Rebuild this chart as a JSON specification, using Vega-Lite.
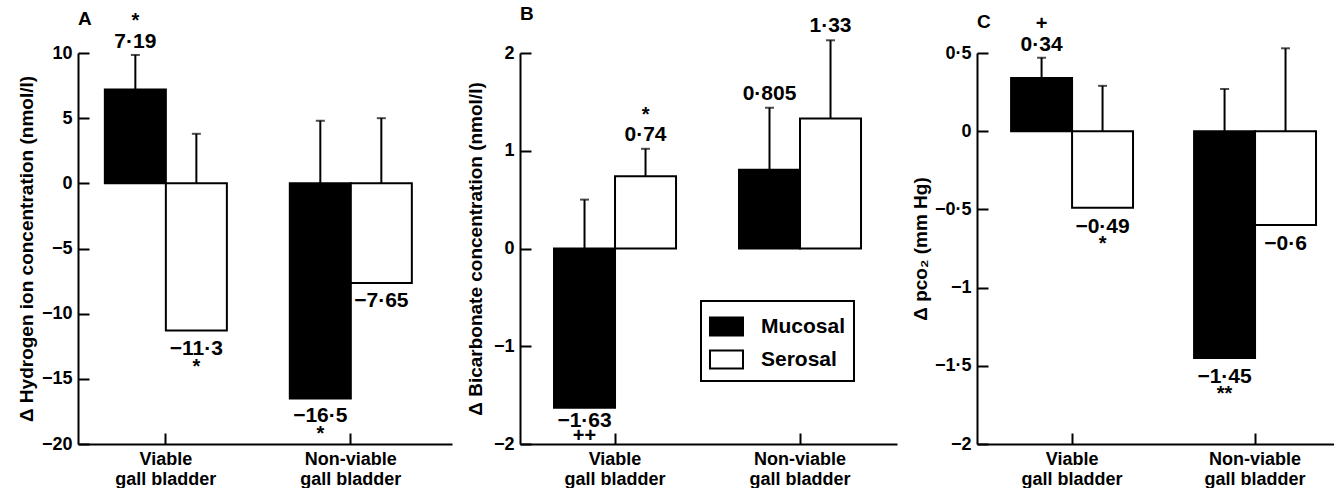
{
"$schema":"https://vega.github.io/schema/vega-lite/v6.json",
"background":"white",
"padding":{"left":17,"top":-4,"right":0,"bottom":0},
"spacing":14,
"datasets":{"d":[
{"panel":"A","group":"Viable","side":"Mucosal","value":7.19,"hi":9.85,"label":"7·19","sig":"*"},
{"panel":"A","group":"Viable","side":"Serosal","value":-11.3,"hi":3.8,"label":"−11·3","sig":"*"},
{"panel":"A","group":"Non-viable","side":"Mucosal","value":-16.5,"hi":4.8,"label":"−16·5","sig":"*"},
{"panel":"A","group":"Non-viable","side":"Serosal","value":-7.65,"hi":5.0,"label":"−7·65","sig":""},
{"panel":"B","group":"Viable","side":"Mucosal","value":-1.63,"hi":0.5,"label":"−1·63","sig":"++"},
{"panel":"B","group":"Viable","side":"Serosal","value":0.74,"hi":1.02,"label":"0·74","sig":"*"},
{"panel":"B","group":"Non-viable","side":"Mucosal","value":0.805,"hi":1.44,"label":"0·805","sig":""},
{"panel":"B","group":"Non-viable","side":"Serosal","value":1.33,"hi":2.13,"label":"1·33","sig":""},
{"panel":"C","group":"Viable","side":"Mucosal","value":0.34,"hi":0.47,"label":"0·34","sig":"+"},
{"panel":"C","group":"Viable","side":"Serosal","value":-0.49,"hi":0.29,"label":"−0·49","sig":"*"},
{"panel":"C","group":"Non-viable","side":"Mucosal","value":-1.45,"hi":0.27,"label":"−1·45","sig":"**"},
{"panel":"C","group":"Non-viable","side":"Serosal","value":-0.6,"hi":0.53,"label":"−0·6","sig":""}
]},
"config":{
 "font":"Liberation Sans",
 "view":{"stroke":null},
 "axis":{"domainColor":"black","domainWidth":2,"tickColor":"black","tickWidth":2,"tickSize":-11,"labelColor":"black","titleColor":"black","grid":false,"labelFont":"Liberation Sans","titleFont":"Liberation Sans","labelFontWeight":"bold","titleFontWeight":"bold","labelFontSize":18,"titleFontSize":19},
 "title":{"anchor":"start","frame":"group","fontSize":19,"fontWeight":"bold","color":"black","font":"Liberation Sans","offset":-18},
 "legend":{"strokeColor":"black","strokeWidth":2,"padding":8},
 "text":{"font":"Liberation Sans","color":"black"}
},
"resolve":{"scale":{"fill":"shared","y":"independent","x":"independent","xOffset":"independent"}},
"hconcat":[
{
 "title":{"text":"A"},
 "width":374,"height":391,
 "data":{"name":"d"},
 "transform":[{"filter":"datum.panel === 'A'"}],
 "encoding":{
  "x":{"field":"group","type":"nominal","sort":["Viable","Non-viable"],"scale":{"paddingInner":0.05,"paddingOuter":0.036,"align":0},
       "axis":{"title":null,"labelAngle":0,"labelPadding":17,"labelBaseline":"top","labelLineHeight":20,"labelExpr":"[datum.label, 'gall bladder']"}},
  "xOffset":{"field":"side","type":"nominal","sort":["Mucosal","Serosal"],"scale":{"paddingInner":0,"paddingOuter":0.44}}
 },
 "layer":[
  {"mark":{"type":"rule","color":"black","strokeWidth":2},
   "encoding":{"y":{"field":"hi","type":"quantitative","scale":{"domain":[-20,10],"nice":false,"zero":false},
     "axis":{"title":"Δ Hydrogen ion concentration (nmol/l)","values":[-20,-15,-10,-5,0,5,10],"format":"~g","labelExpr":"replace(datum.label, '.', '·')","labelPadding":17,"titlePadding":5}},
     "y2":{"datum":0}}},
  {"mark":{"type":"tick","color":"black","thickness":2,"size":9},"encoding":{"y":{"field":"hi","type":"quantitative"}}},
  {"mark":{"type":"bar","stroke":"black","strokeWidth":2},"encoding":{"y":{"field":"value","type":"quantitative"},"y2":{"datum":0},
    "fill":{"field":"side","type":"nominal","scale":{"domain":["Mucosal","Serosal"],"range":["black","white"]},
      "legend":{"orient":"none","legendX":623,"legendY":248,"title":null,"symbolType":"M-1,-0.545H1V0.545H-1Z","symbolSize":1089,"symbolStrokeColor":"black","symbolStrokeWidth":2,"symbolOpacity":1,"labelFontSize":21,"labelFontWeight":"bold","labelFont":"Liberation Sans","labelColor":"black","labelOffset":17,"rowPadding":2}}}},
  {"transform":[{"filter":"datum.value >= 0"}],"mark":{"type":"text","baseline":"alphabetic","dy":-7,"fontSize":21,"fontWeight":"bold"},"encoding":{"y":{"field":"hi","type":"quantitative"},"text":{"field":"label"}}},
  {"transform":[{"filter":"datum.value < 0"}],"mark":{"type":"text","baseline":"top","dy":7,"fontSize":21,"fontWeight":"bold"},"encoding":{"y":{"field":"value","type":"quantitative"},"text":{"field":"label"}}},
  {"transform":[{"filter":"datum.value >= 0"}],"mark":{"type":"text","baseline":"middle","dy":-34,"fontSize":20,"fontWeight":"bold"},"encoding":{"y":{"field":"hi","type":"quantitative"},"text":{"field":"sig"}}},
  {"transform":[{"filter":"datum.value < 0"}],"mark":{"type":"text","baseline":"middle","dy":36,"fontSize":20,"fontWeight":"bold"},"encoding":{"y":{"field":"value","type":"quantitative"},"text":{"field":"sig"}}}
 ]
},
{
 "title":{"text":"B","offset":-28},
 "width":377,"height":391,
 "data":{"name":"d"},
 "transform":[{"filter":"datum.panel === 'B'"}],
 "encoding":{
  "x":{"field":"group","type":"nominal","sort":["Viable","Non-viable"],"scale":{"paddingInner":0,"paddingOuter":0.019,"align":0.36},
       "axis":{"title":null,"labelAngle":0,"labelPadding":17,"labelBaseline":"top","labelLineHeight":20,"labelExpr":"[datum.label, 'gall bladder']"}},
  "xOffset":{"field":"side","type":"nominal","sort":["Mucosal","Serosal"],"scale":{"paddingInner":0,"paddingOuter":0.516}}
 },
 "layer":[
  {"mark":{"type":"rule","color":"black","strokeWidth":2},
   "encoding":{"y":{"field":"hi","type":"quantitative","scale":{"domain":[-2,2],"nice":false,"zero":false},
     "axis":{"title":"Δ Bicarbonate concentration (nmol/l)","values":[-2,-1,0,1,2],"format":"~g","labelExpr":"replace(datum.label, '.', '·')","labelPadding":17,"titlePadding":8}},
     "y2":{"datum":0}}},
  {"mark":{"type":"tick","color":"black","thickness":2,"size":9},"encoding":{"y":{"field":"hi","type":"quantitative"}}},
  {"mark":{"type":"bar","stroke":"black","strokeWidth":2},"encoding":{"y":{"field":"value","type":"quantitative"},"y2":{"datum":0},
    "fill":{"field":"side","type":"nominal","scale":{"domain":["Mucosal","Serosal"],"range":["black","white"]},
      "legend":{"orient":"none","legendX":623,"legendY":248,"title":null,"symbolType":"M-1,-0.545H1V0.545H-1Z","symbolSize":1089,"symbolStrokeColor":"black","symbolStrokeWidth":2,"symbolOpacity":1,"labelFontSize":21,"labelFontWeight":"bold","labelFont":"Liberation Sans","labelColor":"black","labelOffset":17,"rowPadding":2}}}},
  {"transform":[{"filter":"datum.value >= 0"}],"mark":{"type":"text","baseline":"alphabetic","dy":-8,"fontSize":21,"fontWeight":"bold"},"encoding":{"y":{"field":"hi","type":"quantitative"},"text":{"field":"label"}}},
  {"transform":[{"filter":"datum.value < 0"}],"mark":{"type":"text","baseline":"top","dy":2,"fontSize":21,"fontWeight":"bold"},"encoding":{"y":{"field":"value","type":"quantitative"},"text":{"field":"label"}}},
  {"transform":[{"filter":"datum.value >= 0"}],"mark":{"type":"text","baseline":"middle","dy":-34,"fontSize":20,"fontWeight":"bold"},"encoding":{"y":{"field":"hi","type":"quantitative"},"text":{"field":"sig"}}},
  {"transform":[{"filter":"datum.value < 0"}],"mark":{"type":"text","baseline":"middle","dy":28,"fontSize":20,"fontWeight":"bold"},"encoding":{"y":{"field":"value","type":"quantitative"},"text":{"field":"sig"}}}
 ]
},
{
 "title":{"text":"C"},
 "width":357,"height":391,
 "data":{"name":"d"},
 "transform":[{"filter":"datum.panel === 'C'"}],
 "encoding":{
  "x":{"field":"group","type":"nominal","sort":["Viable","Non-viable"],"scale":{"paddingInner":0.137,"paddingOuter":0.044,"align":1},
       "axis":{"title":null,"labelAngle":0,"labelPadding":17,"labelBaseline":"top","labelLineHeight":20,"labelExpr":"[datum.label, 'gall bladder']"}},
  "xOffset":{"field":"side","type":"nominal","sort":["Mucosal","Serosal"],"scale":{"paddingInner":0,"paddingOuter":0.295}}
 },
 "layer":[
  {"mark":{"type":"rule","color":"black","strokeWidth":2},
   "encoding":{"y":{"field":"hi","type":"quantitative","scale":{"domain":[-2,0.5],"nice":false,"zero":false},
     "axis":{"title":"Δ pco₂ (mm Hg)","values":[-2,-1.5,-1,-0.5,0,0.5],"format":"~g","labelExpr":"replace(datum.label, '.', '·')","labelPadding":17,"titlePadding":4}},
     "y2":{"datum":0}}},
  {"mark":{"type":"tick","color":"black","thickness":2,"size":9},"encoding":{"y":{"field":"hi","type":"quantitative"}}},
  {"mark":{"type":"bar","stroke":"black","strokeWidth":2},"encoding":{"y":{"field":"value","type":"quantitative"},"y2":{"datum":0},
    "fill":{"field":"side","type":"nominal","scale":{"domain":["Mucosal","Serosal"],"range":["black","white"]},
      "legend":{"orient":"none","legendX":623,"legendY":248,"title":null,"symbolType":"M-1,-0.545H1V0.545H-1Z","symbolSize":1089,"symbolStrokeColor":"black","symbolStrokeWidth":2,"symbolOpacity":1,"labelFontSize":21,"labelFontWeight":"bold","labelFont":"Liberation Sans","labelColor":"black","labelOffset":17,"rowPadding":2}}}},
  {"transform":[{"filter":"datum.value >= 0"}],"mark":{"type":"text","baseline":"alphabetic","dy":-7,"fontSize":21,"fontWeight":"bold"},"encoding":{"y":{"field":"hi","type":"quantitative"},"text":{"field":"label"}}},
  {"transform":[{"filter":"datum.value < 0"}],"mark":{"type":"text","baseline":"top","dy":8,"fontSize":21,"fontWeight":"bold"},"encoding":{"y":{"field":"value","type":"quantitative"},"text":{"field":"label"}}},
  {"transform":[{"filter":"datum.value >= 0"}],"mark":{"type":"text","baseline":"middle","dy":-34,"fontSize":20,"fontWeight":"bold"},"encoding":{"y":{"field":"hi","type":"quantitative"},"text":{"field":"sig"}}},
  {"transform":[{"filter":"datum.value < 0"}],"mark":{"type":"text","baseline":"middle","dy":36,"fontSize":20,"fontWeight":"bold"},"encoding":{"y":{"field":"value","type":"quantitative"},"text":{"field":"sig"}}}
 ]
}
]
}
